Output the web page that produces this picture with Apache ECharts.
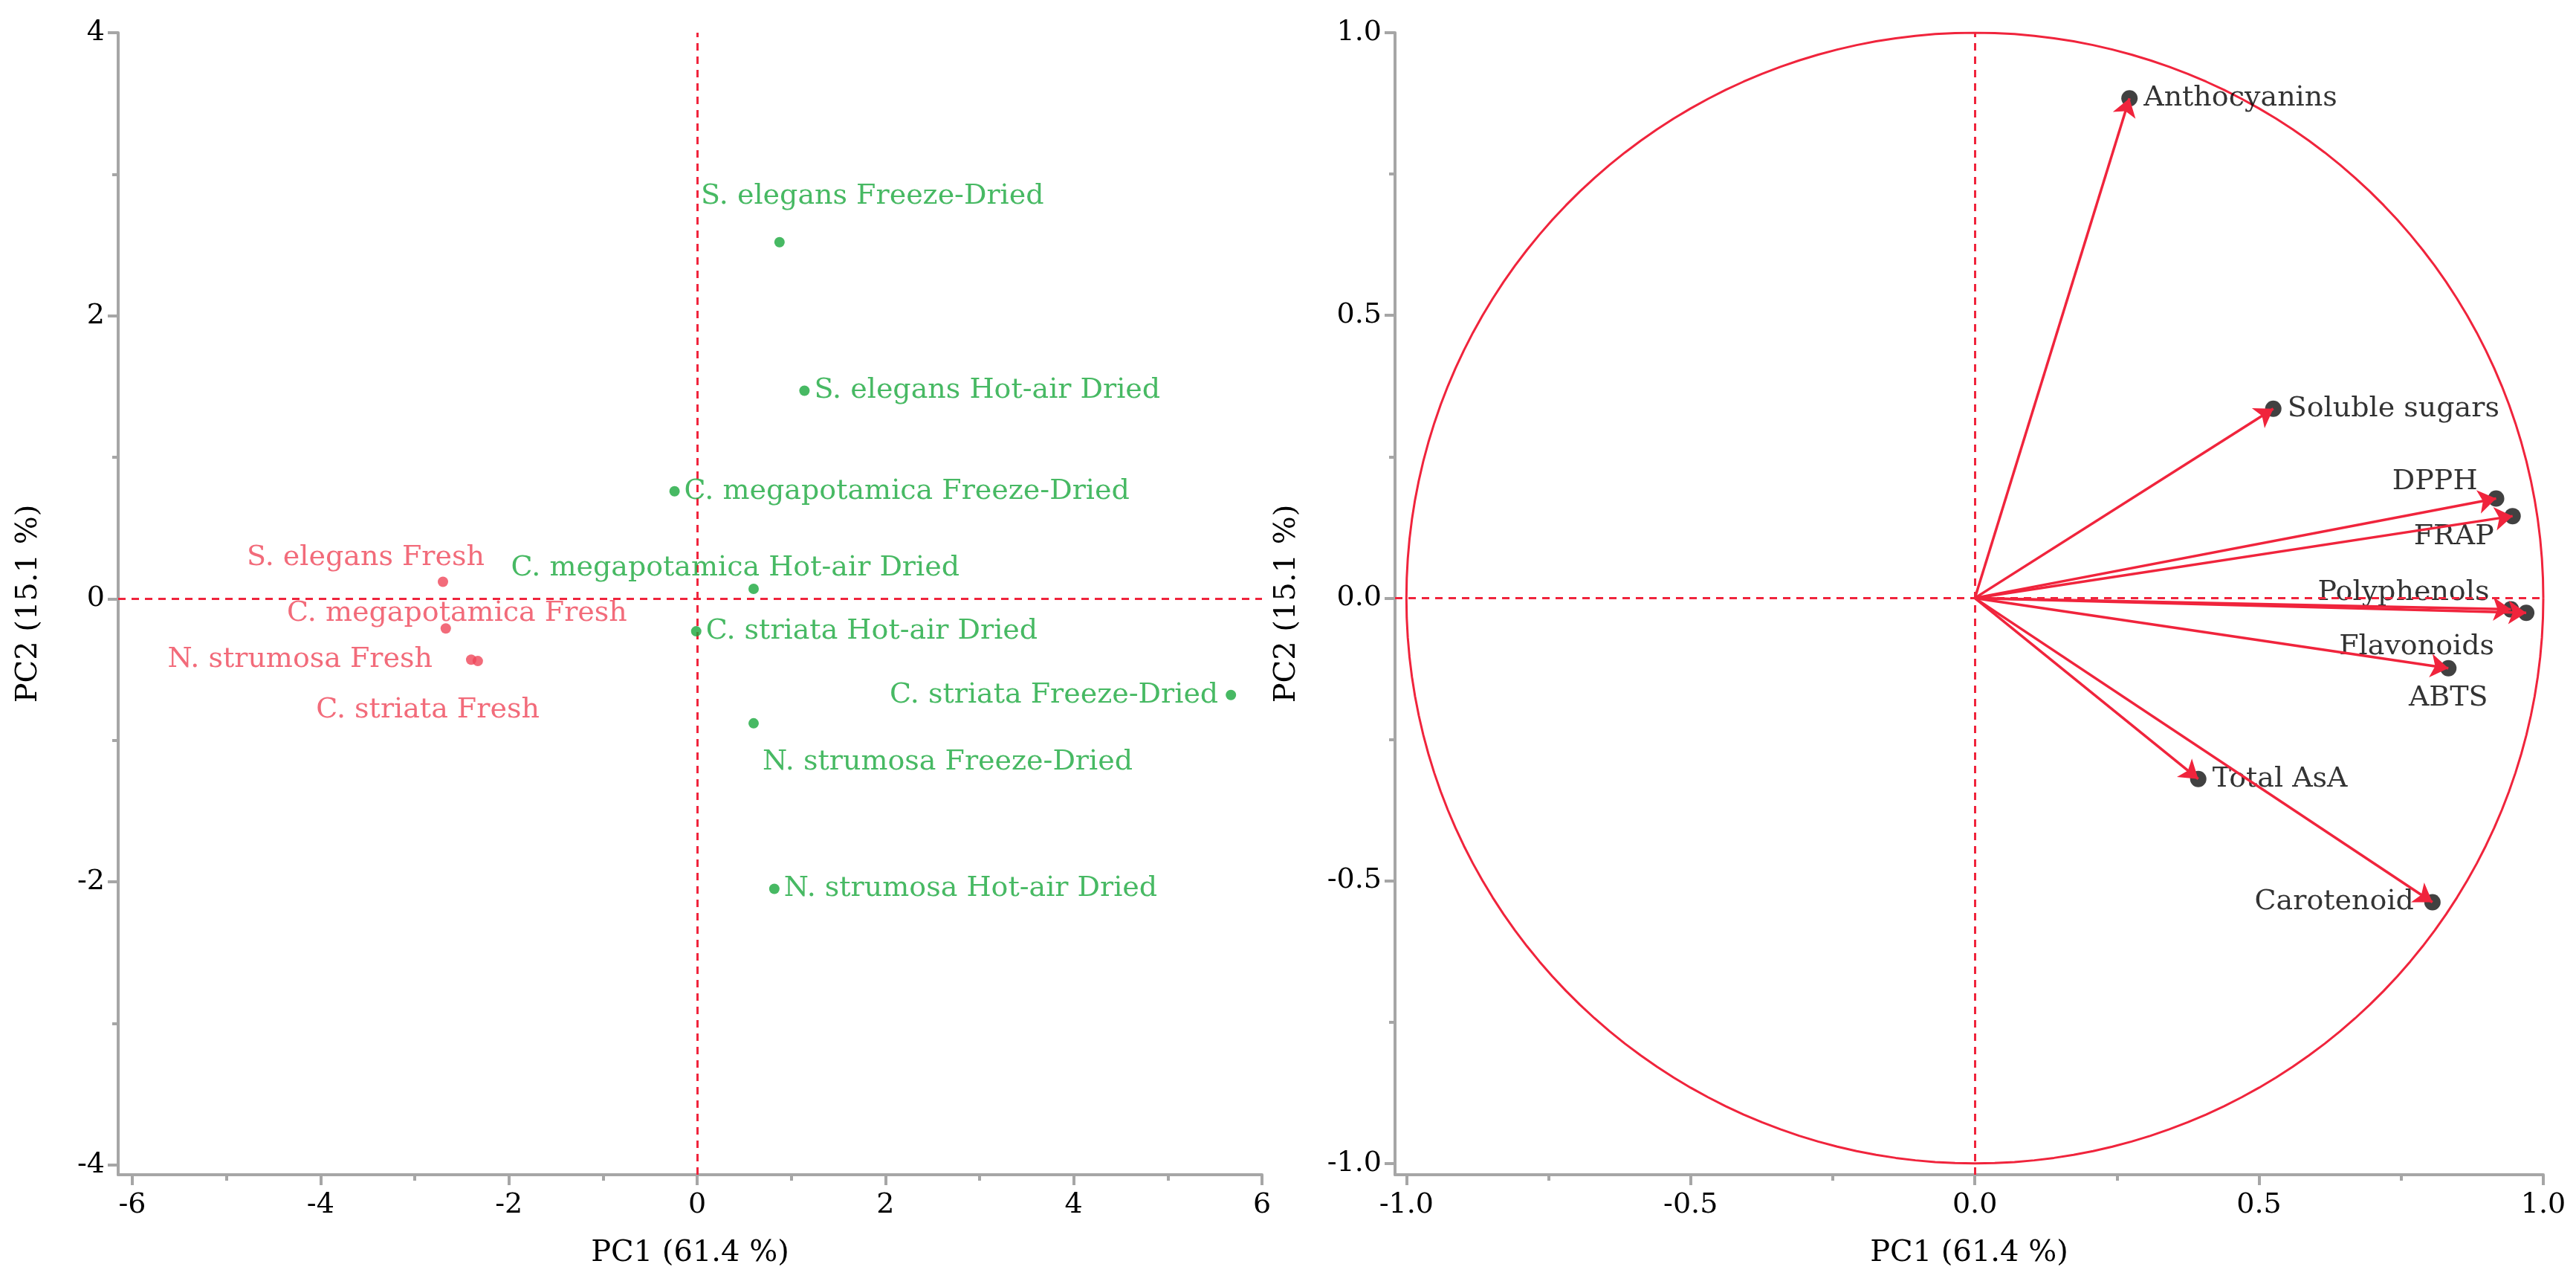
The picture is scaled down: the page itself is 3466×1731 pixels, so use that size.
<!DOCTYPE html><html><head><meta charset="utf-8"><script src="https://cdn.jsdelivr.net/npm/echarts@6/dist/echarts.min.js"></script>
<style>html,body{margin:0;background:#fff}#c{width:3466px;height:1731px}</style></head><body><div id="c"></div><script>
const scoreNames=["S. elegans Fresh","C. megapotamica Fresh","N. strumosa Fresh","C. striata Fresh","S. elegans Freeze-Dried","S. elegans Hot-air Dried","C. megapotamica Freeze-Dried","C. megapotamica Hot-air Dried","C. striata Hot-air Dried","C. striata Freeze-Dried","N. strumosa Freeze-Dried","N. strumosa Hot-air Dried"];
const scorePC1=[-2.70,-2.67,-2.40,-2.33,0.875,1.14,-0.24,0.60,-0.01,5.67,0.60,0.82];
const scorePC2=[0.12,-0.21,-0.43,-0.44,2.52,1.47,0.76,0.07,-0.23,-0.68,-0.88,-2.05];
const scoreGroup=["Fresh","Fresh","Fresh","Fresh","Dried","Dried","Dried","Dried","Dried","Dried","Dried","Dried"];
const loadNames=["Anthocyanins","Soluble sugars","DPPH","FRAP","Polyphenols","Flavonoids","ABTS","Total AsA","Carotenoid"];
const loadPC1=[0.272,0.525,0.917,0.946,0.943,0.970,0.833,0.393,0.805];
const loadPC2=[0.884,0.335,0.176,0.145,-0.020,-0.026,-0.124,-0.320,-0.538];
const leftTicksX=[-6,-4,-2,0,2,4,6], leftTicksY=[-4,-2,0,2,4];
const rightTicks=[-1,-0.5,0,0.5,1];

const FONT='DejaVu Serif', FS=38, AX='#a6a6a6', RED='#f0243c', TXT='#000';
const scoreLab=[['left',69,-32],['left',257,-20],['left',-39,0],['left',96,66],['top',125,-30],['right',0,0],['right',0,0],['left',290,-28],['right',0,0],['left',-4,0],['bottom',261,20],['right',0,0]];
const loadLab=[['right',0,0],['right',0,0],['left',-6,-22],['left',-6,28],['left',-10,-22],['left',-24,46],['bottom',0,2],['right',0,0],['left',-6,0]];

function axisX(idx,min,max,ticks,fmt){return {type:'value',gridIndex:idx,min:min,max:max,
 name:'PC1 (61.4 %)',nameLocation:'middle',nameGap:86,nameTextStyle:{fontFamily:FONT,fontSize:40,color:TXT},
 axisLine:{show:true,onZero:false,lineStyle:{color:AX,width:4}},
 axisTick:{show:true,length:14,customValues:ticks,lineStyle:{color:AX,width:4}},
 axisLabel:{customValues:ticks,fontFamily:FONT,fontSize:FS,color:TXT,margin:22,formatter:fmt},
 splitLine:{show:false}};}
function axisY(idx,min,max,ticks,fmt){return {type:'value',gridIndex:idx,min:min,max:max,
 name:'PC2 (15.1 %)',nameLocation:'middle',nameGap:idx==0?100:125,nameTextStyle:{fontFamily:FONT,fontSize:40,color:TXT},
 axisLine:{show:true,onZero:false,lineStyle:{color:AX,width:4}},
 axisTick:{show:true,length:14,customValues:ticks,lineStyle:{color:AX,width:4}},
 axisLabel:{customValues:ticks,fontFamily:FONT,fontSize:FS,color:TXT,margin:18,formatter:fmt},
 splitLine:{show:false}};}
function minorX(idx,min,max,vals){return {type:'value',gridIndex:idx,min:min,max:max,position:'bottom',axisLine:{show:false,onZero:false},axisTick:{show:true,length:8,customValues:vals,lineStyle:{color:AX,width:4}},axisLabel:{show:false},splitLine:{show:false}};}
function minorY(idx,min,max,vals){return {type:'value',gridIndex:idx,min:min,max:max,position:'left',axisLine:{show:false,onZero:false},axisTick:{show:true,length:8,customValues:vals,lineStyle:{color:AX,width:4}},axisLabel:{show:false},splitLine:{show:false}};}
const f1=v=>v.toFixed(1);
const zeroLines={silent:true,symbol:'none',label:{show:false},lineStyle:{color:RED,type:[10,8],width:3},data:[{xAxis:0},{yAxis:0}]};

const scoreData=scoreNames.map((n,i)=>({value:[scorePC1[i],scorePC2[i]],name:n,
 itemStyle:{color:scoreGroup[i]==='Fresh'?'#ef4659':'#19a83c'},
 label:{show:true,formatter:n,position:scoreLab[i][0],offset:[scoreLab[i][1],scoreLab[i][2]],fontFamily:FONT,fontSize:FS,color:scoreGroup[i]==='Fresh'?'#ef4659':'#19a83c',distance:6}}));
const circ=[];for(let k=0;k<=360;k+=2){circ.push([Math.cos(k*Math.PI/180),Math.sin(k*Math.PI/180)]);}
const arrows=loadNames.map((n,i)=>({coords:[[0,0],[loadPC1[i],loadPC2[i]]]}));
const tipData=loadNames.map((n,i)=>({value:[loadPC1[i],loadPC2[i]],name:n,
 label:{show:true,formatter:n,position:loadLab[i][0],offset:[loadLab[i][1],loadLab[i][2]],fontFamily:FONT,fontSize:FS,color:TXT,distance:8}}));

const chart=echarts.init(document.getElementById('c'));
chart.setOption({animation:false,backgroundColor:'#fff',
 grid:[{left:159,right:1768,top:44,bottom:151},{left:1877,right:44,top:44,bottom:151}],
 xAxis:[axisX(0,-6.15,6,leftTicksX,v=>String(v)),axisX(1,-1.02,1,rightTicks,f1),
   minorX(0,-6.15,6,[-5,-3,-1,1,3,5]),minorX(1,-1.02,1,[-0.75,-0.25,0.25,0.75])],
 yAxis:[axisY(0,-4.07,4,leftTicksY,v=>String(v)),axisY(1,-1.02,1,rightTicks,f1),
   minorY(0,-4.07,4,[-3,-1,1,3]),minorY(1,-1.02,1,[-0.75,-0.25,0.25,0.75])],
 series:[
  {type:'scatter',xAxisIndex:0,yAxisIndex:0,symbolSize:14,data:scoreData,markLine:zeroLines,z:5},
  {type:'line',xAxisIndex:1,yAxisIndex:1,data:circ,symbol:'none',lineStyle:{color:RED,width:3},silent:true,markLine:zeroLines},
  {type:'scatter',xAxisIndex:1,yAxisIndex:1,symbolSize:22,itemStyle:{color:'#111'},data:tipData,z:3},
  {type:'lines',coordinateSystem:'cartesian2d',xAxisIndex:1,yAxisIndex:1,symbol:['none','arrow'],symbolSize:24,
   lineStyle:{color:RED,width:3.5,opacity:1},itemStyle:{color:RED},data:arrows,z:4}
 ]});
</script></body></html>
